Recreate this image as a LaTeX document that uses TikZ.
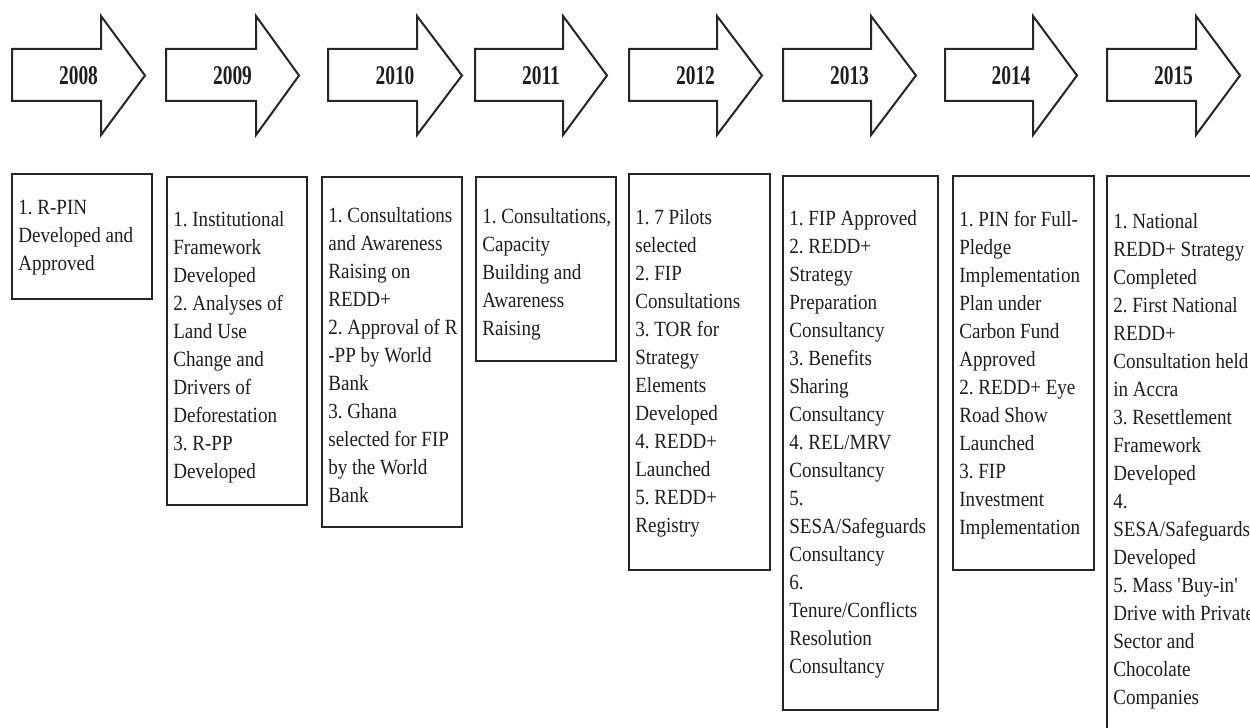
\documentclass[tikz,border=0pt]{standalone}
\usepackage{fontspec}
\setmainfont{Liberation Serif}[FakeStretch=0.88]
\newfontfamily\yearfont{Liberation Serif}[FakeStretch=0.72]
\definecolor{ink}{HTML}{262626}
\definecolor{txtc}{HTML}{1E1E1E}
\frenchspacing
\begin{document}
\begin{tikzpicture}[x=0.6pt,y=-0.6pt,
  arrowshape/.style={draw=ink, line width=1.2pt, line join=miter, fill=white},
  yearlabel/.style={font=\yearfont\bfseries\fontsize{16.2}{19}\selectfont, text=txtc, inner sep=0pt},
  boxline/.style={draw=ink, line width=1.5pt},
  boxtext/.style={anchor=base west, inner sep=0pt, text=txtc,
    font=\fontsize{13}{16.8}\selectfont}]
\useasboundingbox (0,0) rectangle (1250,728);
\clip (0,0) rectangle (1250,728);
\fill[white] (0,0) rectangle (1250,728);

% year arrows
\foreach \L/\H/\T/\yr in {12/101/145/2008, 166/256/299/2009, 328/417/462/2010,
  475/563/607/2011, 629/717/762/2012, 783/871/916/2013, 945/1033/1077/2014,
  1107/1196/1240/2015}{
  \draw[arrowshape] (\L,49) -- (\H,49) -- (\H,16) -- (\T,75.5) -- (\H,135)
    -- (\H,101) -- (\L,101) -- cycle;
  \node[yearlabel] (y\yr) at ({(\L+\T)/2},76) {\yr};
}

% boxes
\draw[boxline] (12,174) rectangle (152,299);
\node[boxtext] (t2008) at (18,215) {\parbox[t]{200pt}{\raggedright
1. R-PIN\\Developed and\\Approved}};

\draw[boxline] (167,177) rectangle (307,505);
\node[boxtext] (t2009) at (173,227) {\parbox[t]{200pt}{\raggedright
1. Institutional\\Framework\\Developed\\2. Analyses of\\Land Use\\Change and\\Drivers of\\Deforestation\\3. R-PP\\Developed}};

\draw[boxline] (322,177) rectangle (462,527);
\node[boxtext] (t2010) at (328,223) {\parbox[t]{200pt}{\raggedright
1. Consultations\\and Awareness\\Raising on\\REDD+\\2. Approval of R\\-PP by World\\Bank\\3. Ghana\\selected for FIP\\by the World\\Bank}};

\draw[boxline] (476,177) rectangle (616,361);
\node[boxtext] (t2011) at (482,224) {\parbox[t]{200pt}{\raggedright
1. Consultations,\\Capacity\\Building and\\Awareness\\Raising}};

\draw[boxline] (629,174) rectangle (770,570);
\node[boxtext] (t2012) at (635,225) {\parbox[t]{200pt}{\raggedright
1. 7 Pilots\\selected\\2. FIP\\Consultations\\3. TOR for\\Strategy\\Elements\\Developed\\4. REDD+\\Launched\\5. REDD+\\Registry}};

\draw[boxline] (783,176) rectangle (938,710);
\node[boxtext] (t2013) at (789,226) {\parbox[t]{200pt}{\raggedright
1. FIP Approved\\2. REDD+\\Strategy\\Preparation\\Consultancy\\3. Benefits\\Sharing\\Consultancy\\4. REL/MRV\\Consultancy\\5.\\SESA/Safeguards\\Consultancy\\6.\\Tenure/Conflicts\\Resolution\\Consultancy}};

\draw[boxline] (953,176) rectangle (1094,570);
\node[boxtext] (t2014) at (959,227) {\parbox[t]{200pt}{\raggedright
1. PIN for Full-\\Pledge\\Implementation\\Plan under\\Carbon Fund\\Approved\\2. REDD+ Eye\\Road Show\\Launched\\3. FIP\\Investment\\Implementation}};

\draw[boxline] (1107,176) rectangle (1300,800);
\node[boxtext] (t2015) at (1113,229) {\parbox[t]{200pt}{\raggedright
1. National\\REDD+ Strategy\\Completed\\2. First National\\REDD+\\Consultation held\\in Accra\\3. Resettlement\\Framework\\Developed\\4.\\SESA/Safeguards\\Developed\\5. Mass \textquotesingle Buy-in\textquotesingle\\Drive with Private\\Sector and\\Chocolate\\Companies}};
\end{tikzpicture}
\end{document}
